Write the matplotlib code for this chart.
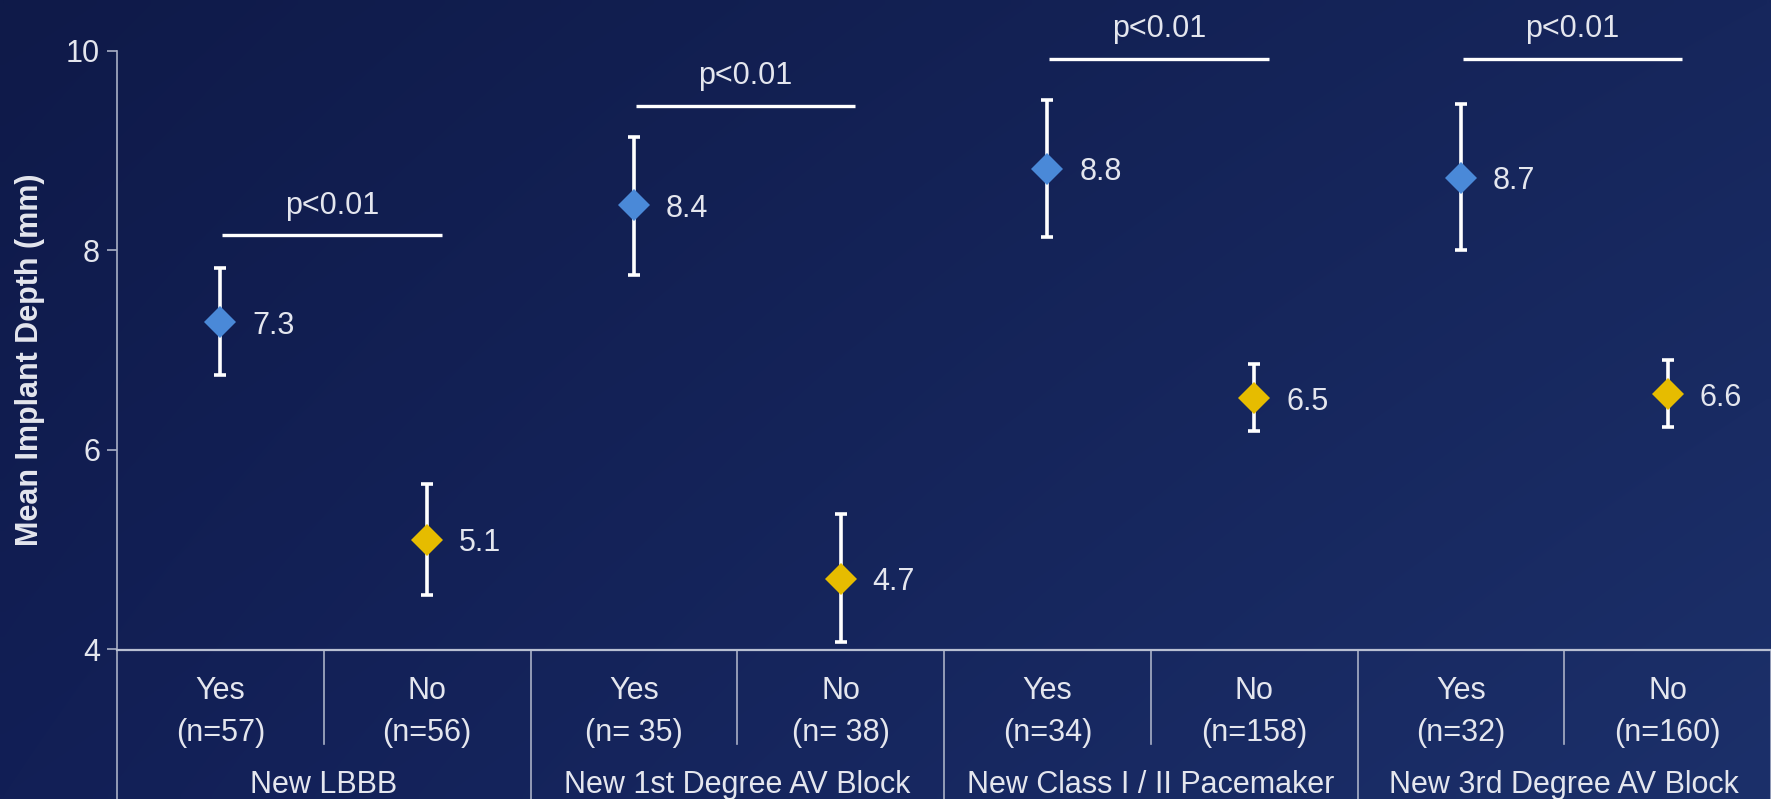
import numpy as np
import matplotlib
matplotlib.use("Agg")
import matplotlib.pyplot as plt
from matplotlib.transforms import blended_transform_factory

plt.rcParams['font.family'] = ['Liberation Sans', 'DejaVu Sans']

# ---------------- data ----------------
groups = ["New LBBB", "New 1st Degree AV Block", "New Class I / II Pacemaker", "New 3rd Degree AV Block"]
sub_labels = ["Yes", "No", "Yes", "No", "Yes", "No", "Yes", "No"]
n_labels = ["(n=57)", "(n=56)", "(n= 35)", "(n= 38)", "(n=34)", "(n=158)", "(n=32)", "(n=160)"]
means = [7.28, 5.10, 8.45, 4.71, 8.82, 6.52, 8.73, 6.56]
err_low = [6.75, 4.55, 7.75, 4.08, 8.13, 6.19, 8.00, 6.23]
err_high = [7.82, 5.66, 9.14, 5.36, 9.51, 6.86, 9.47, 6.90]
value_labels = ["7.3", "5.1", "8.4", "4.7", "8.8", "6.5", "8.7", "6.6"]
p_texts = ["p<0.01", "p<0.01", "p<0.01", "p<0.01"]
p_line_y = [8.15, 9.45, 9.92, 9.92]
yticks = [4, 6, 8, 10]

# ---------------- style ----------------
W, H = 1771, 799
BLUE = '#4a89d8'
YELLOW = '#e6bc00'
TXT = '#e4e6ee'
GRID = '#a9b0c6'
marker_colors = [BLUE, YELLOW] * 4

fig = plt.figure(figsize=(W / 100, H / 100), dpi=100)

# background gradient
bg = fig.add_axes([0, 0, 1, 1], zorder=-10)
tl = np.array([15, 26, 73]) / 255
tr = np.array([22, 38, 92]) / 255
bl = np.array([18, 31, 86]) / 255
br = np.array([28, 48, 106]) / 255
u = np.linspace(0, 1, 200)[None, :, None]
v = np.linspace(0, 1, 100)[:, None, None]
img = (1 - v) * ((1 - u) * tl + u * tr) + v * ((1 - u) * bl + u * br)
bg.imshow(img, aspect='auto', extent=[0, 1, 0, 1], interpolation='bilinear')
bg.axis('off')

left_px, top_px, bot_px = 117, 50.8, 649.5
ax = fig.add_axes([left_px / W, 1 - bot_px / H, (W - left_px) / W, (bot_px - top_px) / H])
ax.set_facecolor('none')
ax.set_xlim(-0.5, 7.5)
ax.set_ylim(4, 10)

x = np.arange(len(means))
means_a = np.array(means)
yerr = [means_a - np.array(err_low), np.array(err_high) - means_a]
ax.errorbar(x, means_a, yerr=yerr, fmt='none', ecolor='white', elinewidth=2.6,
            capsize=4.6, capthick=2.6, zorder=3)
for xi, m, c in zip(x, means, marker_colors):
    ax.plot([xi], [m], marker='D', markersize=16, color=c, markeredgewidth=0, zorder=4)
for xi, m, lab in zip(x, means, value_labels):
    ax.text(xi + 0.155, m, lab, ha='left', va='center_baseline', color=TXT, fontsize=22, zorder=5)

# p-value brackets
for g, (py, pt) in enumerate(zip(p_line_y, p_texts)):
    x0 = 2 * g + 0.01
    x1 = 2 * g + 1 + 0.07
    ax.plot([x0, x1], [py, py], color='white', lw=2.4, solid_capstyle='butt', clip_on=False, zorder=3)
    ax.text((x0 + x1) / 2, py + 0.33, pt, ha='center', va='center_baseline', color=TXT,
            fontsize=22, clip_on=False)

# axes styling
for s in ['top', 'right']:
    ax.spines[s].set_visible(False)
ax.spines['left'].set_color(GRID)
ax.spines['left'].set_linewidth(1.2)
ax.spines['bottom'].set_color('#b8bfd2')
ax.spines['bottom'].set_linewidth(1.6)
ax.set_yticks(yticks)
ax.set_yticklabels([str(t) for t in yticks])
ax.tick_params(axis='y', direction='out', length=7.2, width=1.2, color=GRID,
               labelcolor=TXT, labelsize=22, pad=5)
ax.set_xticks([])

# category table below the axis
tr_ = blended_transform_factory(ax.transData, ax.transAxes)
for xi in [-0.5, 1.5, 3.5, 5.5, 7.5]:
    ax.plot([xi, xi], [0, -0.3], color=GRID, lw=1.2, transform=tr_, clip_on=False)
for xi in [0.5, 2.5, 4.5, 6.5]:
    ax.plot([xi, xi], [0, -0.158], color=GRID, lw=1.2, transform=tr_, clip_on=False)
for xi, s, n in zip(x, sub_labels, n_labels):
    ax.text(xi, -0.0643, s, ha='center', va='center_baseline', color=TXT, fontsize=22,
            transform=tr_, clip_on=False)
    ax.text(xi, -0.1328, n, ha='center', va='center_baseline', color=TXT, fontsize=22,
            transform=tr_, clip_on=False)
for g, name in enumerate(groups):
    ax.text(2 * g + 0.5, -0.2213, name, ha='center', va='center_baseline', color=TXT,
            fontsize=22, transform=tr_, clip_on=False)

fig.text(30 / W, 1 - 360 / H, "Mean Implant Depth (mm)", rotation=90, ha='center', va='center',
         color=TXT, fontsize=22, fontweight='bold')

fig.savefig('out.png', dpi=100)
